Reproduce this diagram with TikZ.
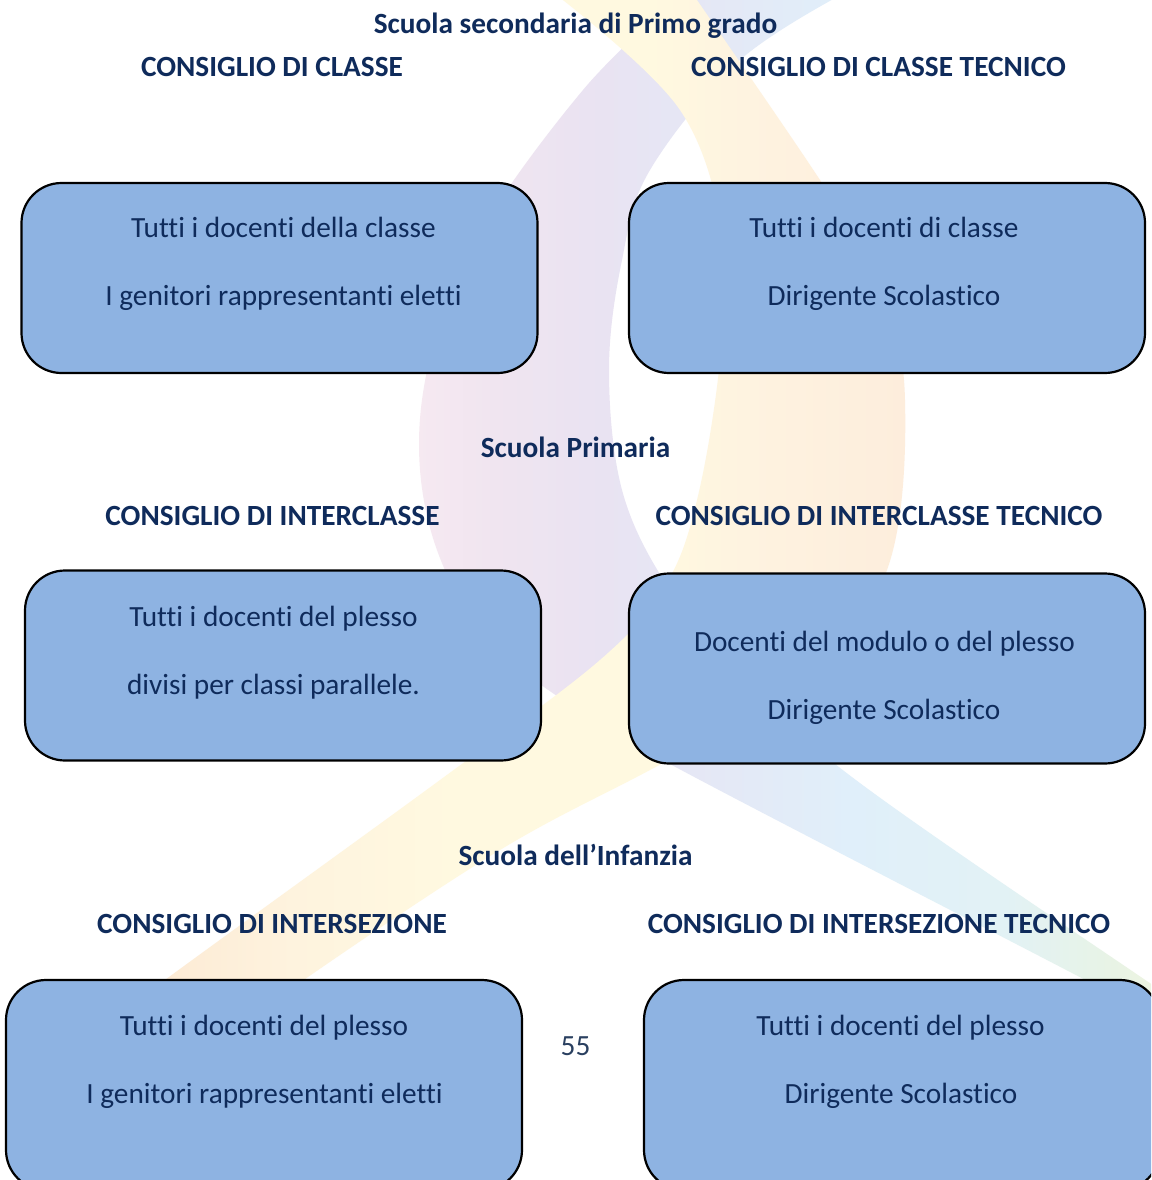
\documentclass[tikz,border=0pt]{standalone}
\usepackage{fontspec}
\setmainfont[Ligatures=NoCommon]{Carlito}

% text and panel colours
\definecolor{navy}{HTML}{0F2B5B}
\definecolor{numgray}{HTML}{2A4060}
\definecolor{boxblue}{HTML}{8EB3E2}

% pale watermark colours
\definecolor{pinkL}{HTML}{F6E9F1}
\definecolor{pinkM}{HTML}{EFE4F0}
\definecolor{lavL}{HTML}{E9E3F2}
\definecolor{lavB}{HTML}{E5E7F5}
\definecolor{blueL}{HTML}{E0EFFA}
\definecolor{cyanL}{HTML}{E2F2F5}
\definecolor{greenL}{HTML}{E8F3E5}
\definecolor{tipY}{HTML}{F3F6DE}
\definecolor{orangeL}{HTML}{FCE7D1}
\definecolor{peachY}{HTML}{FEF3DE}
\definecolor{yellowL}{HTML}{FFF9E0}
\definecolor{creamL}{HTML}{FEF3E0}
\definecolor{peachL}{HTML}{FDEDDC}

\pgfdeclarehorizontalshading{purpleribbon}{100bp}{%
  color(0bp)=(pinkL); color(25bp)=(pinkL); color(31bp)=(pinkM);
  color(37bp)=(lavL); color(43bp)=(lavB); color(53bp)=(blueL);
  color(63bp)=(cyanL); color(70bp)=(greenL); color(75bp)=(tipY);
  color(100bp)=(tipY)}
\pgfdeclarehorizontalshading{orangeribbon}{100bp}{%
  color(0bp)=(orangeL); color(25bp)=(orangeL); color(37bp)=(peachY);
  color(47bp)=(yellowL); color(59bp)=(yellowL); color(65bp)=(creamL);
  color(75bp)=(peachL); color(100bp)=(peachL)}

\begin{document}
\begin{tikzpicture}[x=1pt,y=-1pt,
  panel/.style={draw=black, line width=2.2pt, fill=boxblue,
    rounded corners=40pt, inner sep=0pt,
    minimum width=516pt, minimum height=190pt},
  tallpanel/.style={panel, minimum height=210pt},
  entry/.style={anchor=base, inner sep=0pt, text=navy,
    font=\fontsize{29.3}{32}\selectfont},
  headline/.style={entry, font=\bfseries\fontsize{29.3}{32}\selectfont},
  pagenum/.style={entry, text=numgray}]

\useasboundingbox (0,0) rectangle (1151,1180);
\clip (0,0) rectangle (1151,1180);
\fill[white] (0,0) rectangle (1151,1180);

% faint ribbon logo in the background
\shade[shading=purpleribbon]
  plot[smooth, tension=0.6] coordinates {(687,-10) (583,90) (470,250)
    (423,393) (428,520) (480,630) (570,705) (683,771) (1072,973) (1165,1022)}
  -- plot[smooth, tension=0.6] coordinates {(1180,1000) (1135,973) (844,771)
    (730,660) (666,584) (622,490) (609,370) (622,260) (650,170) (740,60) (850,-10)}
  -- cycle;
\shade[shading=orangeribbon]
  plot[smooth, tension=0.6] coordinates {(550,-10) (680,110) (725,250)
    (719,370) (697,500) (666,584) (600,660) (440,780) (169,977) (100,1030)}
  -- plot[smooth, tension=0.6] coordinates {(240,1030) (308,977) (500,850)
    (650,770) (800,690) (887,570) (905,400) (880,280) (820,180) (690,-10)}
  -- cycle;

% Scuola secondaria di Primo grado
\node[headline] (sec) at (575.5,34) {Scuola secondaria di Primo grado};
\node[headline] (secA) at (272,77) {CONSIGLIO DI CLASSE};
\node[headline] (secB) at (878.5,77) {CONSIGLIO DI CLASSE TECNICO};
\node[panel] (boxA) at (279.5,278) {};
\node[panel] (boxB) at (887,278) {};
\node[entry] (a1) at (283.5,237) {Tutti i docenti della classe};
\node[entry] (a2) at (283.5,305) {I genitori rappresentanti eletti};
\node[entry] (b1) at (884,237) {Tutti i docenti di classe};
\node[entry] (b2) at (884,305) {Dirigente Scolastico};

% Scuola Primaria
\node[headline] (pri) at (575.5,457) {Scuola Primaria};
\node[headline] (priA) at (272.5,525) {CONSIGLIO DI INTERCLASSE};
\node[headline] (priB) at (879,525) {CONSIGLIO DI INTERCLASSE TECNICO};
\node[panel] (boxC) at (283,665.5) {};
\node[panel] (boxD) at (887,668.5) {};
\node[entry] (c1) at (273.5,626) {Tutti i docenti del plesso};
\node[entry] (c2) at (273.5,694) {divisi per classi parallele.};
\node[entry] (d1) at (884.5,651) {Docenti del modulo o del plesso};
\node[entry] (d2) at (884,719) {Dirigente Scolastico};

% Scuola dell'Infanzia
\node[headline] (inf) at (575.5,865) {Scuola dell’Infanzia};
\node[headline] (infA) at (272,933) {CONSIGLIO DI INTERSEZIONE};
\node[headline] (infB) at (879,933) {CONSIGLIO DI INTERSEZIONE TECNICO};
\node[tallpanel] (boxE) at (264,1085) {};
\node[tallpanel] (boxF) at (902,1085) {};
\node[entry] (e1) at (264,1035) {Tutti i docenti del plesso};
\node[entry] (e2) at (264.5,1103) {I genitori rappresentanti eletti};
\node[entry] (f1) at (900.5,1035) {Tutti i docenti del plesso};
\node[entry] (f2) at (901,1103) {Dirigente Scolastico};

% page number
\node[pagenum] (page) at (575.5,1055) {55};
\end{tikzpicture}
\end{document}
